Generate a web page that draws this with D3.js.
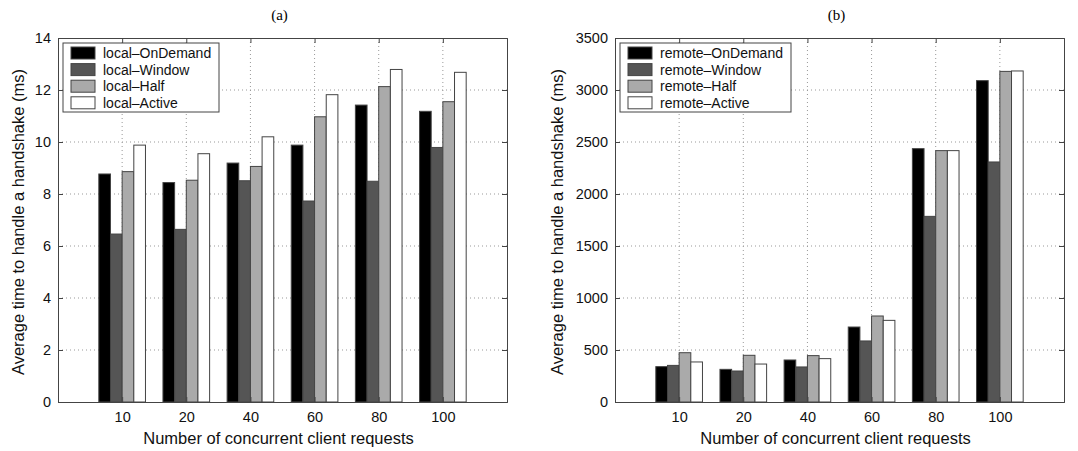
<!DOCTYPE html>
<html>
<head>
<meta charset="utf-8">
<script src="https://cdn.jsdelivr.net/npm/d3@7"></script>
<style>
  body { margin: 0; background: #fff; }
  svg { display: block; font-family: "Liberation Sans", Arial, sans-serif; }
  .grid line { stroke: #999; stroke-dasharray: 1,3; }
</style>
</head>
<body>
<svg id="chart" width="1078" height="451"></svg>
<script>
// categories on the x axis
var categories = ["10", "20", "40", "60", "80", "100"];

// panel (a): local
var localOnDemand = [8.77, 8.44, 9.19, 9.88, 11.42, 11.18];
var localWindow   = [6.46, 6.64, 8.51, 7.73, 8.49, 9.79];
var localHalf     = [8.86, 8.53, 9.06, 10.97, 12.13, 11.55];
var localActive   = [9.88, 9.55, 10.20, 11.82, 12.79, 12.68];
var localNames = ["local–OnDemand", "local–Window", "local–Half", "local–Active"];
var localTicks = [0, 2, 4, 6, 8, 10, 12, 14];

// panel (b): remote
var remoteOnDemand = [340, 314, 404, 721, 2436, 3090];
var remoteWindow   = [352, 298, 337, 587, 1785, 2308];
var remoteHalf     = [474, 449, 446, 827, 2417, 3179];
var remoteActive   = [385, 365, 417, 785, 2417, 3183];
var remoteNames = ["remote–OnDemand", "remote–Window", "remote–Half", "remote–Active"];
var remoteTicks = [0, 500, 1000, 1500, 2000, 2500, 3000, 3500];

var fills = ["#000000", "#555555", "#aaaaaa", "#ffffff"];

var svg = d3.select('#chart');

function drawPanel(p) {
  var g = svg.append('g');
  var top = 38, bottom = 402;

  var x = d3.scaleLinear().domain([0, categories.length + 1]).range([p.left, p.right]);
  var y = d3.scaleLinear().domain([0, d3.max(p.ticks)]).range([bottom, top]);
  var xTicks = categories.map(function (d, i) { return i + 1; });

  // dotted grid
  var grid = g.append('g').attr('class', 'grid');
  grid.selectAll('.gy').data(p.ticks.slice(1, -1)).enter().append('line')
    .attr('x1', p.left).attr('x2', p.right)
    .attr('y1', function (d) { return y(d); }).attr('y2', function (d) { return y(d); });
  grid.selectAll('.gx').data(xTicks).enter().append('line')
    .attr('x1', function (d) { return x(d); }).attr('x2', function (d) { return x(d); })
    .attr('y1', top).attr('y2', bottom);

  // bars
  var n = p.series.length;
  var groupW = (x(1) - x(0)) * n / (n + 1.5);
  var barW = groupW / n;
  p.series.forEach(function (vals, si) {
    g.selectAll('.bar' + si).data(vals).enter().append('rect')
      .attr('x', function (d, i) { return x(i + 1) - groupW / 2 + si * barW; })
      .attr('y', function (d) { return y(d); })
      .attr('width', barW)
      .attr('height', function (d) { return bottom - y(d); })
      .attr('fill', fills[si])
      .attr('stroke', '#444')
      .attr('stroke-width', 1);
  });

  // axes with inward ticks on all four sides
  var axL = g.append('g').attr('transform', 'translate(' + p.left + ',0)')
    .call(d3.axisLeft(y).tickValues(p.ticks).tickSize(-5).tickPadding(7).tickFormat(d3.format('d')));
  var axR = g.append('g').attr('transform', 'translate(' + p.right + ',0)')
    .call(d3.axisRight(y).tickValues(p.ticks).tickSize(-5).tickFormat(''));
  var axB = g.append('g').attr('transform', 'translate(0,' + bottom + ')')
    .call(d3.axisBottom(x).tickValues(xTicks).tickSize(-5).tickPadding(10)
      .tickFormat(function (d) { return categories[d - 1]; }));
  var axT = g.append('g').attr('transform', 'translate(0,' + top + ')')
    .call(d3.axisTop(x).tickValues(xTicks).tickSize(-5).tickFormat(''));

  [axL, axR, axB, axT].forEach(function (a) {
    a.selectAll('.domain').attr('stroke', '#444');
    a.selectAll('line').attr('stroke', '#444');
    a.selectAll('text').attr('font-size', 14.5).attr('fill', '#111')
      .attr('font-family', '"Liberation Sans", Arial, sans-serif');
  });
  axB.selectAll('text').attr('dy', '0.71em');

  // titles
  g.append('text').attr('x', (p.left + p.right) / 2 - 3).attr('y', 20)
    .attr('text-anchor', 'middle').attr('font-family', '"Liberation Serif", "Times New Roman", serif')
    .attr('font-size', 15).text(p.title);
  g.append('text').attr('x', (p.left + p.right) / 2 - 4).attr('y', 444)
    .attr('text-anchor', 'middle').attr('font-size', 16.5).attr('fill', '#111')
    .text('Number of concurrent client requests');
  g.append('text')
    .attr('transform', 'translate(' + p.labelX + ',' + ((top + bottom) / 2 + 2) + ') rotate(-90)')
    .attr('dy', '0.35em')
    .attr('text-anchor', 'middle').attr('font-size', 16.5).attr('fill', '#111')
    .text('Average time to handle a handshake (ms)');

  // legend
  var lg = g.append('g').attr('transform', 'translate(' + (p.left + 5) + ',' + (top + 5) + ')');
  lg.append('rect').attr('width', p.legendW).attr('height', 69)
    .attr('fill', '#fff').attr('stroke', '#444');
  var item = lg.selectAll('.legend').data(p.names).enter().append('g')
    .attr('transform', function (d, i) { return 'translate(8,' + (4 + i * 16.6) + ')'; });
  item.append('rect').attr('width', 24).attr('height', 12)
    .attr('fill', function (d, i) { return fills[i]; }).attr('stroke', '#444');
  item.append('text').attr('x', 32).attr('y', 6).attr('dy', '0.35em')
    .attr('font-size', 14).attr('fill', '#111').text(function (d) { return d; });
}

drawPanel({
  title: '(a)', left: 58, right: 507, labelX: 18, ticks: localTicks, names: localNames, legendW: 156,
  series: [localOnDemand, localWindow, localHalf, localActive]
});
drawPanel({
  title: '(b)', left: 615, right: 1064, labelX: 557, ticks: remoteTicks, names: remoteNames, legendW: 171,
  series: [remoteOnDemand, remoteWindow, remoteHalf, remoteActive]
});
</script>
</body>
</html>
